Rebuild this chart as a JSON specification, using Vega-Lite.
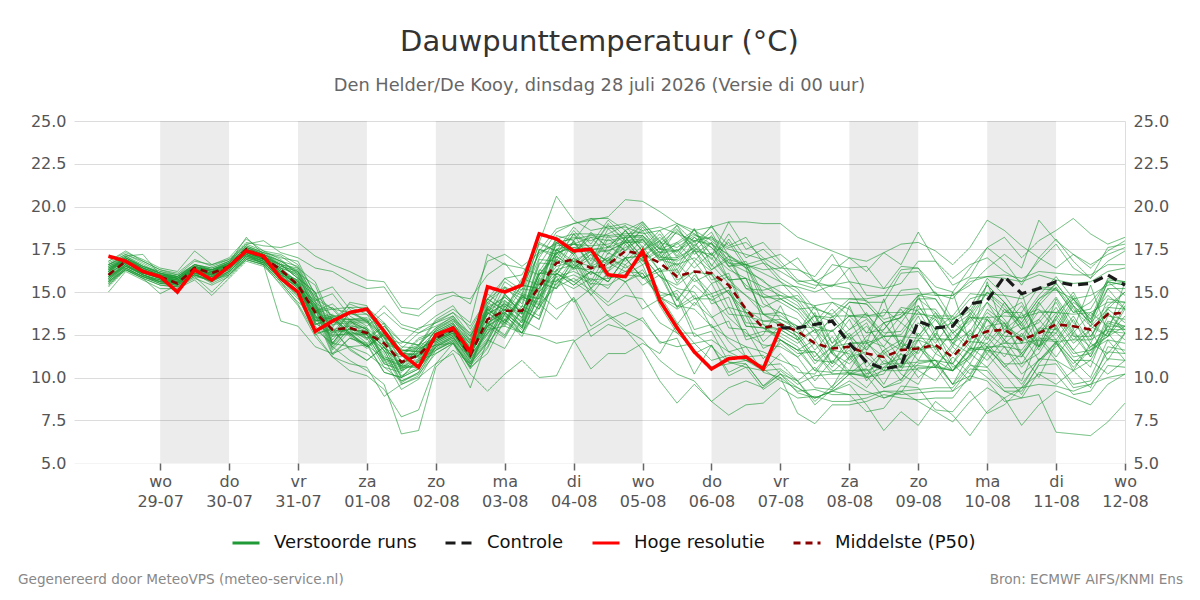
{
  "$schema": "https://vega.github.io/schema/vega-lite/v6.json",
  "background": "white",
  "padding": {"left": 18, "top": 28, "right": 10, "bottom": 10},
  "title": {
    "text": "Dauwpunttemperatuur (°C)",
    "subtitle": "Den Helder/De Kooy, dinsdag 28 juli 2026 (Versie di 00 uur)",
    "anchor": "middle",
    "frame": "group",
    "font": "DejaVu Sans",
    "fontSize": 29,
    "fontWeight": "normal",
    "color": "#333333",
    "subtitleFont": "DejaVu Sans",
    "subtitleFontSize": 17.8,
    "subtitleColor": "#666666",
    "subtitlePadding": 20,
    "offset": 18
  },
  "datasets": {
    "tijden": [
      {"t": "2026-07-28T06:00", "hres": 17.1, "p50": 16.0, "leden": [16.6,15.4,17.0,16.2,15.8,15.3,16.8,15.6,16.4,16.1,15.9,16.3,16.7,16.5,15.6,16.0,15.7,16.3,15.5,16.2,16.4,15.8,16.6,15.9,16.1,16.5,15.8,16.3,15.9,15.6,16.4,16.2,15.7,16.0,15.8,16.6,15.4,16.6,15.0,16.2,16.3,16.1,15.9,16.8,15.7,16.4,15.6,16.5,15.5,16.2]},
      {"t": "2026-07-28T12:00", "hres": 16.8, "p50": 16.8, "leden": [17.0,16.4,16.9,17.1,16.6,16.3,17.3,16.5,16.9,16.7,16.6,16.8,17.2,17.0,16.3,16.8,16.5,17.0,16.4,16.9,16.8,16.6,17.1,16.6,16.9,16.9,16.7,16.9,16.5,16.4,17.0,16.8,16.6,16.7,16.5,17.1,16.3,17.2,16.2,16.8,16.9,16.7,16.7,17.4,16.5,16.9,16.4,17.0,16.3,16.9]},
      {"t": "2026-07-28T18:00", "hres": 16.2, "p50": 16.2, "leden": [16.5,15.9,16.4,17.2,16.0,15.8,16.9,16.1,16.3,16.2,16.0,16.1,16.7,16.4,15.8,16.3,16.0,16.4,15.9,16.3,16.2,16.1,16.5,16.0,16.4,16.3,16.2,16.3,16.0,15.9,16.5,16.2,16.1,16.2,16.1,16.6,15.8,16.8,15.7,16.2,16.4,16.1,16.2,16.8,16.0,16.4,15.9,16.5,15.9,16.3]},
      {"t": "2026-07-29T00:00", "hres": 15.9, "p50": 15.9, "leden": [16.1,15.5,15.7,16.0,15.6,14.9,16.4,15.8,16.0,15.8,15.7,15.9,16.2,16.1,15.4,15.9,15.7,16.0,15.6,15.9,15.9,15.8,16.1,15.6,16.0,15.9,15.9,15.8,15.7,15.5,16.1,15.9,15.8,15.9,15.8,16.1,15.4,16.3,15.2,15.8,16.0,15.9,15.9,16.3,15.6,16.0,15.6,16.2,15.5,15.9]},
      {"t": "2026-07-29T06:00", "hres": 15.0, "p50": 15.5, "leden": [15.8,15.4,15.3,15.9,15.5,15.4,16.2,15.6,15.7,15.5,15.6,15.8,16.0,15.9,15.3,15.7,15.5,15.8,15.4,15.8,15.6,15.6,15.9,15.6,15.8,15.7,15.5,15.5,15.6,15.5,15.8,15.7,15.4,15.6,15.6,15.9,15.3,16.1,15.2,15.7,15.8,15.6,15.5,16.0,15.5,15.8,15.5,15.9,15.4,15.7]},
      {"t": "2026-07-29T12:00", "hres": 16.3, "p50": 16.4, "leden": [16.5,15.9,16.2,16.6,16.0,16.1,17.4,16.4,16.3,16.2,16.2,16.4,16.8,16.5,15.8,16.3,16.1,16.4,16.0,16.3,16.2,16.2,16.6,16.1,16.4,16.3,16.3,16.3,16.1,16.0,16.5,16.4,16.2,16.3,16.2,16.6,15.9,16.9,15.7,16.4,16.5,16.2,16.3,16.6,16.1,16.4,16.0,16.5,16.0,16.3]},
      {"t": "2026-07-29T18:00", "hres": 15.7, "p50": 16.1, "leden": [16.3,15.7,15.9,16.4,15.6,15.5,16.6,16.0,16.2,16.0,15.9,16.3,16.6,16.2,15.4,16.1,15.8,16.3,15.7,16.1,16.0,16.0,16.3,15.9,16.2,16.1,16.0,16.0,15.9,15.7,16.2,16.1,16.0,16.0,15.9,16.4,15.0,16.5,14.8,16.0,16.2,16.1,16.0,16.3,15.8,16.2,15.7,16.3,15.6,16.1]},
      {"t": "2026-07-30T00:00", "hres": 16.5, "p50": 16.5, "leden": [16.7,16.0,16.6,16.8,16.2,16.0,16.9,16.4,16.6,16.4,16.3,16.6,17.0,16.7,15.9,16.5,16.3,16.6,16.1,16.6,16.4,16.4,16.8,16.3,16.6,16.5,16.5,16.5,16.4,16.2,16.7,16.5,16.4,16.5,16.4,16.8,16.0,16.9,15.8,16.5,16.6,16.4,16.5,16.7,16.2,16.6,16.2,16.7,16.1,16.6]},
      {"t": "2026-07-30T06:00", "hres": 17.4, "p50": 17.5, "leden": [17.6,17.0,17.5,17.8,17.1,16.9,17.9,17.3,17.5,17.2,17.2,17.3,18.1,17.6,16.9,17.4,17.2,17.5,17.0,17.4,17.3,17.3,17.7,17.2,17.4,17.5,17.3,17.4,17.2,17.1,17.6,17.4,17.3,17.4,17.3,17.7,16.9,17.8,16.8,17.2,17.5,17.3,17.4,18.2,17.1,17.5,17.1,17.6,17.0,17.4]},
      {"t": "2026-07-30T12:00", "hres": 17.1, "p50": 17.0, "leden": [17.2,16.7,17.2,17.4,16.8,16.6,17.7,16.9,17.1,16.9,16.8,17.0,17.4,17.3,16.6,17.0,16.8,17.2,16.7,17.0,17.0,16.9,17.3,16.8,17.1,17.1,16.9,17.0,16.8,16.7,17.2,17.1,16.9,17.0,16.9,17.3,16.6,18.0,16.5,16.6,17.1,17.0,16.9,17.2,16.8,17.1,16.7,17.2,16.7,17.0]},
      {"t": "2026-07-30T18:00", "hres": 15.8, "p50": 16.3, "leden": [16.8,15.8,16.0,16.9,16.0,15.6,17.6,16.1,16.6,16.2,15.9,16.4,17.2,16.8,15.6,16.4,16.0,16.6,15.7,16.6,16.2,16.2,17.0,15.8,16.3,16.5,16.1,16.2,16.0,15.8,16.7,16.4,16.1,16.3,16.1,17.1,15.4,17.3,15.5,13.3,16.5,16.2,16.3,16.6,15.9,16.6,15.8,16.8,15.7,16.4]},
      {"t": "2026-07-31T00:00", "hres": 15.0, "p50": 15.4, "leden": [16.2,15.1,15.2,16.0,15.0,14.3,17.9,15.7,15.8,15.4,15.3,15.6,16.6,16.5,14.6,15.5,15.5,15.8,14.8,16.4,15.4,15.3,16.8,14.9,15.6,16.2,15.2,15.3,15.6,14.8,15.9,16.1,15.2,15.4,15.7,16.4,14.2,17.0,14.4,13.0,16.2,15.3,15.4,16.3,15.0,15.8,15.4,16.1,14.7,16.0]},
      {"t": "2026-07-31T06:00", "hres": 12.7, "p50": 13.8, "leden": [14.5,12.8,14.0,13.9,13.0,12.6,17.1,13.6,15.0,13.4,13.2,14.8,14.9,14.6,14.0,13.3,13.4,15.0,12.5,14.6,14.4,13.1,14.8,14.1,13.5,14.1,14.3,13.1,13.5,14.0,13.9,14.0,14.3,13.3,13.6,15.6,12.4,16.4,13.7,11.8,14.2,14.5,13.3,14.4,14.2,13.8,13.2,15.4,12.6,13.9]},
      {"t": "2026-07-31T12:00", "hres": 13.3, "p50": 12.8, "leden": [14.9,12.0,12.9,14.3,11.8,11.2,16.6,12.8,12.4,13.6,12.4,12.0,15.3,13.6,11.4,13.6,12.6,12.6,12.9,14.0,12.0,13.4,14.0,11.7,13.7,13.3,11.9,13.5,12.7,11.6,14.1,13.2,12.0,13.5,12.8,13.3,11.2,16.2,11.3,11.4,13.4,12.2,13.5,13.6,11.8,14.0,12.5,13.0,12.8,13.1]},
      {"t": "2026-07-31T18:00", "hres": 13.8, "p50": 12.9, "leden": [13.6,11.8,14.4,13.4,11.0,10.4,16.2,12.6,13.8,12.6,12.6,13.3,14.0,13.4,12.3,12.6,12.8,13.8,11.6,13.8,13.3,12.4,14.1,12.9,12.8,13.4,13.1,12.5,12.8,12.7,13.0,13.3,13.2,12.5,13.0,14.3,10.8,15.6,12.3,11.8,13.4,13.4,12.6,13.7,12.9,12.9,12.5,14.1,11.7,13.2]},
      {"t": "2026-08-01T00:00", "hres": 14.0, "p50": 12.6, "leden": [13.0,11.9,14.2,12.3,10.4,10.1,15.7,12.6,13.3,11.9,12.5,12.8,13.2,13.5,12.0,11.8,12.7,13.4,11.0,13.9,12.8,11.7,14.1,12.5,12.0,13.3,12.7,11.8,12.7,12.3,12.3,13.3,12.8,11.8,12.9,13.9,10.6,15.2,11.9,11.4,13.4,12.9,11.8,13.7,12.5,12.2,12.5,13.7,11.0,13.2]},
      {"t": "2026-08-01T06:00", "hres": 12.7, "p50": 12.0, "leden": [13.8,11.1,12.0,13.0,9.6,9.3,15.6,11.6,11.5,12.7,11.4,10.9,14.2,12.7,10.3,12.6,11.8,11.7,11.8,13.1,11.1,12.5,13.2,10.8,12.8,12.4,11.0,12.5,11.8,10.6,13.2,12.4,11.1,12.6,12.0,12.3,8.9,15.3,10.3,10.6,12.5,11.2,12.6,12.8,10.8,13.0,11.6,12.1,11.8,12.3]},
      {"t": "2026-08-01T12:00", "hres": 11.4, "p50": 10.9, "leden": [12.9,9.3,11.6,12.1,6.7,7.7,14.1,9.7,11.2,11.6,9.6,10.6,13.1,10.8,10.0,11.4,10.0,11.3,10.6,11.5,10.8,11.3,11.4,10.4,11.6,10.4,10.7,11.3,10.0,10.3,12.1,10.5,10.7,11.4,10.1,12.0,9.6,13.8,10.0,9.8,10.6,10.9,11.4,10.9,10.5,11.8,9.8,11.7,10.7,10.4]},
      {"t": "2026-08-01T18:00", "hres": 10.6, "p50": 11.3, "leden": [12.6,9.9,11.6,11.9,6.9,8.1,14.0,10.3,12.2,11.5,10.1,11.6,12.8,11.3,11.0,11.3,10.5,12.3,10.6,11.9,11.8,11.2,11.8,11.5,11.5,10.9,11.7,11.2,10.5,11.3,11.9,11.0,11.7,11.3,10.6,12.9,10.0,13.6,11.1,10.2,11.1,11.9,11.4,11.3,11.5,11.7,10.3,12.6,10.6,10.9]},
      {"t": "2026-08-02T00:00", "hres": 12.5, "p50": 12.3, "leden": [13.2,11.6,12.4,12.9,10.6,10.8,14.8,11.9,12.6,12.4,11.8,12.2,13.6,12.8,11.4,12.3,12.0,12.7,11.8,13.4,12.2,12.2,13.3,11.9,12.5,12.4,12.1,12.2,12.0,11.7,12.9,12.5,12.1,12.3,12.1,13.2,10.8,14.4,11.6,11.4,12.6,12.3,12.3,12.8,11.9,12.7,11.8,13.0,11.6,12.4]},
      {"t": "2026-08-02T06:00", "hres": 12.9, "p50": 12.8, "leden": [13.6,12.2,13.0,13.6,11.6,12.0,15.0,12.0,13.1,12.9,12.4,12.6,14.2,13.4,12.0,12.8,12.5,13.2,12.3,14.0,12.7,12.7,13.8,12.4,13.0,12.9,12.6,12.7,12.5,12.2,13.4,13.0,12.6,12.8,12.6,13.8,11.4,14.8,12.1,12.0,13.1,12.8,12.8,13.3,12.4,13.2,12.3,13.5,12.1,12.9]},
      {"t": "2026-08-02T12:00", "hres": 11.5, "p50": 11.3, "leden": [12.2,11.2,11.8,12.4,10.8,10.8,14.3,10.2,11.6,11.4,11.4,11.0,12.8,12.6,10.6,11.3,11.6,11.7,10.8,13.2,11.2,11.2,13.0,10.9,11.5,12.0,11.1,11.1,11.6,10.7,11.9,12.1,11.1,11.3,11.7,12.5,9.4,14.6,10.5,10.6,12.2,11.3,11.3,12.4,10.9,11.7,11.4,12.1,10.6,12.0]},
      {"t": "2026-08-02T18:00", "hres": 15.3, "p50": 13.4, "leden": [14.9,12.6,14.2,14.6,12.0,12.1,16.8,9.2,13.0,14.1,13.0,12.2,14.6,14.4,11.4,14.0,13.2,13.0,13.2,17.2,12.8,13.8,14.6,12.8,14.2,13.7,12.3,13.8,13.2,11.8,14.6,13.9,12.5,14.0,13.4,13.7,12.2,16.0,11.7,13.0,14.0,12.6,14.0,14.1,12.1,14.4,13.0,13.4,13.2,13.7]},
      {"t": "2026-08-03T00:00", "hres": 15.0, "p50": 13.9, "leden": [14.1,13.4,15.8,15.8,13.2,14.0,17.2,10.2,14.9,13.3,13.7,14.2,13.9,15.2,13.4,13.2,13.8,14.9,12.5,16.6,14.8,13.1,15.3,13.0,13.4,14.3,14.2,13.0,13.8,13.7,13.9,14.5,14.4,13.2,14.0,15.6,11.7,16.7,13.8,12.3,14.7,14.5,13.2,14.7,14.0,13.7,13.6,15.3,12.4,14.3]},
      {"t": "2026-08-03T06:00", "hres": 15.4, "p50": 13.9, "leden": [15.4,12.6,15.1,16.0,12.6,13.3,16.5,11.0,13.7,14.9,12.6,12.9,15.8,14.6,12.4,14.7,13.0,13.7,14.2,16.4,14.1,14.8,14.8,12.6,14.8,13.7,13.2,14.6,12.9,12.6,15.4,13.8,13.4,14.7,13.2,14.9,13.4,15.4,12.9,14.0,13.8,13.5,14.8,13.9,13.0,15.2,12.8,14.3,14.0,13.5]},
      {"t": "2026-08-03T12:00", "hres": 18.4, "p50": 15.3, "leden": [15.2,14.3,17.8,17.9,14.1,16.1,17.3,10.0,16.9,14.6,14.8,15.7,15.4,17.0,14.3,14.4,15.0,16.7,13.6,16.0,17.5,14.0,17.4,12.4,14.6,16.6,15.8,14.0,15.0,14.9,15.2,16.0,16.1,14.3,15.2,17.9,12.8,17.2,15.5,13.4,16.2,16.3,14.2,16.0,15.6,15.0,14.7,17.5,13.4,15.8]},
      {"t": "2026-08-03T18:00", "hres": 18.1, "p50": 16.7, "leden": [18.1,15.3,17.4,20.6,15.5,16.2,17.8,10.1,16.8,17.5,15.9,15.6,18.3,18.5,13.4,17.3,16.3,16.6,16.3,17.2,17.0,15.9,18.7,12.0,17.5,18.1,15.4,16.9,16.1,14.0,17.9,17.3,16.0,17.1,16.5,17.4,15.7,17.9,15.2,16.1,17.7,16.0,17.1,17.5,15.2,17.9,15.7,17.2,16.1,17.3]},
      {"t": "2026-08-04T00:00", "hres": 17.4, "p50": 16.9, "leden": [17.2,15.8,17.9,19.2,16.4,18.0,18.2,12.1,18.4,16.8,16.2,17.0,18.0,19.0,14.7,16.4,16.6,18.0,15.6,17.8,18.4,14.4,19.0,12.2,16.6,18.4,16.8,16.4,15.6,14.6,17.2,17.6,17.4,16.3,16.8,18.8,15.2,18.1,17.0,15.4,17.8,17.2,16.4,17.8,16.6,17.2,16.0,18.6,15.4,17.6]},
      {"t": "2026-08-04T06:00", "hres": 17.5, "p50": 16.4, "leden": [18.5,15.1,16.5,18.6,16.3,16.6,18.0,12.8,16.8,17.4,15.7,15.2,19.3,19.2,13.0,17.2,16.1,16.5,16.2,18.2,17.5,15.2,19.3,10.5,17.5,18.4,15.2,17.2,14.9,12.4,18.4,17.3,15.6,17.0,16.5,17.8,15.8,18.3,16.0,16.2,17.7,15.4,17.4,17.5,14.8,18.2,15.5,17.5,16.2,17.5]},
      {"t": "2026-08-04T12:00", "hres": 16.0, "p50": 16.6, "leden": [17.6,14.2,17.0,18.8,17.0,18.3,18.4,13.4,18.7,16.8,15.8,16.7,18.7,19.4,13.7,16.6,16.2,18.1,15.6,18.0,19.0,14.4,19.3,11.4,16.7,18.3,16.1,15.8,13.6,13.1,17.6,17.4,17.3,16.2,16.4,19.2,15.2,18.2,17.7,15.6,17.8,16.9,16.8,17.4,16.1,17.2,15.4,18.9,15.6,17.6]},
      {"t": "2026-08-04T18:00", "hres": 15.9, "p50": 17.4, "leden": [18.6,14.8,16.4,19.0,17.6,17.4,18.9,13.8,17.8,18.2,16.2,16.2,18.8,20.4,13.0,18.0,17.0,17.4,17.0,18.2,18.0,15.6,18.6,11.4,18.2,18.4,15.6,16.0,12.8,12.8,18.6,17.9,16.8,17.8,17.0,18.2,16.6,18.3,17.0,17.0,18.2,16.6,18.0,17.9,15.6,18.6,16.0,18.0,17.0,18.0]},
      {"t": "2026-08-05T00:00", "hres": 17.4, "p50": 17.2, "leden": [17.4,14.6,17.0,18.6,18.1,18.8,17.6,13.3,18.6,17.0,16.1,16.9,18.4,20.3,13.5,16.8,17.1,18.3,15.8,18.2,18.9,14.0,19.1,12.0,17.0,18.5,16.1,16.6,11.6,12.2,17.4,18.0,17.7,16.6,17.1,19.1,15.4,18.3,18.1,15.8,18.3,17.5,16.8,17.9,16.3,17.4,15.9,19.0,15.8,18.1]},
      {"t": "2026-08-05T06:00", "hres": 14.5, "p50": 16.7, "leden": [18.4,13.2,14.8,18.8,16.9,17.5,18.6,12.1,17.2,18.0,14.7,15.0,18.6,19.7,12.0,17.6,15.9,17.0,16.2,17.3,17.8,14.6,17.9,11.4,17.8,17.5,14.6,14.2,9.8,11.0,18.2,17.0,16.2,17.2,15.9,18.0,16.0,17.5,16.8,16.4,17.3,16.2,17.4,16.9,14.8,18.0,14.7,17.6,16.4,17.1]},
      {"t": "2026-08-05T12:00", "hres": 12.9, "p50": 15.9, "leden": [17.0,12.6,13.2,18.4,16.9,18.9,17.1,11.8,18.6,16.3,14.2,14.7,19.0,19.0,12.3,15.9,15.4,17.9,14.1,17.8,18.7,13.1,17.6,13.1,16.1,17.4,15.1,12.6,8.5,10.2,17.3,17.0,16.3,15.5,15.2,18.9,14.1,17.9,17.5,14.5,17.4,16.7,15.7,16.6,14.9,16.5,14.0,18.5,14.5,16.8]},
      {"t": "2026-08-05T18:00", "hres": 11.5, "p50": 16.2, "leden": [18.2,12.6,12.0,18.0,17.6,17.2,18.7,12.0,17.7,17.8,14.0,12.4,18.6,18.4,10.2,17.4,16.2,16.8,14.8,18.4,17.6,14.4,18.3,11.4,17.5,18.2,14.2,11.6,9.6,9.8,18.7,17.6,14.6,16.8,15.0,17.9,15.4,18.6,16.4,16.0,18.0,15.6,16.2,17.0,12.8,18.0,14.6,17.4,15.8,17.4]},
      {"t": "2026-08-06T00:00", "hres": 10.5, "p50": 16.1, "leden": [17.2,11.8,11.0,18.2,16.6,17.9,17.1,12.2,18.5,16.9,13.0,12.7,18.8,17.8,11.9,16.3,16.0,17.9,12.9,17.6,18.9,13.5,18.1,11.9,15.7,17.6,15.5,10.6,8.6,8.6,16.5,17.0,14.9,15.5,13.6,18.8,14.5,18.0,17.3,14.9,17.8,16.1,14.3,16.2,13.1,16.3,14.6,18.3,14.7,17.2]},
      {"t": "2026-08-06T06:00", "hres": 11.1, "p50": 15.4, "leden": [17.9,10.9,11.3,17.6,15.5,15.7,19.1,11.5,16.7,18.4,12.3,10.9,19.1,17.2,10.3,17.1,14.9,16.5,13.3,16.7,17.1,14.1,17.5,10.1,16.1,16.5,13.7,10.8,9.4,7.8,18.1,15.7,12.9,15.9,12.1,17.7,15.1,17.1,15.7,15.3,16.9,14.1,14.7,14.9,11.5,16.9,13.5,16.5,15.1,16.3]},
      {"t": "2026-08-06T12:00", "hres": 11.2, "p50": 14.0, "leden": [16.4,10.6,11.0,17.9,14.8,15.8,17.5,11.0,16.6,17.0,11.8,10.8,19.1,16.4,10.8,15.2,13.8,16.8,11.2,16.2,16.4,12.4,17.2,10.6,13.8,15.4,13.6,11.0,9.8,8.4,16.6,14.8,12.8,13.6,11.2,18.2,13.0,16.6,15.8,13.2,16.6,13.8,12.2,14.0,11.8,15.2,12.6,16.6,13.0,15.8]},
      {"t": "2026-08-06T18:00", "hres": 10.5, "p50": 12.9, "leden": [16.7,10.4,10.6,17.0,13.7,13.7,17.9,10.7,14.3,17.5,11.5,9.5,19.0,15.6,9.5,14.7,12.9,14.9,11.3,15.7,13.1,12.7,16.9,9.3,13.7,14.7,11.7,10.4,9.4,8.5,16.9,14.1,11.1,13.3,10.5,16.7,12.9,16.1,13.7,13.1,16.3,12.1,12.5,13.3,10.3,15.1,11.9,14.7,12.9,15.3]},
      {"t": "2026-08-07T00:00", "hres": 12.9, "p50": 13.1, "ctrl": 12.9, "leden": [15.6,10.5,12.2,16.4,13.0,13.2,16.8,10.8,13.8,16.6,11.0,10.2,19.0,15.0,10.4,13.4,12.4,14.4,10.2,14.6,12.2,12.6,15.8,10.0,13.8,14.8,12.2,11.4,10.2,9.4,17.2,14.6,12.0,13.2,9.8,16.2,12.8,15.6,13.6,12.8,16.4,13.0,14.2,13.4,10.0,15.4,11.8,14.6,12.2,14.8]},
      {"t": "2026-08-07T06:00", "p50": 12.7, "ctrl": 12.9, "leden": [14.5,9.8,11.6,16.3,12.4,12.6,15.7,9.8,12.8,15.5,10.6,9.4,18.2,14.4,9.6,13.0,11.8,13.8,9.1,14.0,11.4,12.0,15.2,9.2,13.4,14.2,11.6,10.3,9.8,8.8,16.4,14.8,11.2,12.6,9.4,15.6,12.2,15.0,13.0,12.2,17.0,12.4,12.2,12.8,7.9,15.3,11.2,14.0,11.6,14.6]},
      {"t": "2026-08-07T12:00", "p50": 12.0, "ctrl": 13.1, "leden": [14.2,10.6,11.5,15.9,11.0,14.2,15.4,8.4,13.6,15.2,9.4,8.8,17.8,13.0,10.1,11.6,10.4,12.6,8.8,12.8,11.5,12.8,14.0,9.3,12.2,13.0,10.4,10.2,8.6,8.9,15.6,13.6,12.0,11.2,8.8,15.7,10.8,13.6,12.9,12.8,15.6,11.0,13.8,13.6,7.3,15.0,9.8,14.1,12.2,13.2]},
      {"t": "2026-08-07T18:00", "p50": 11.7, "ctrl": 13.3, "leden": [14.4,9.4,10.2,17.2,10.9,12.0,15.4,9.3,11.4,16.6,9.3,9.2,17.4,12.7,10.2,12.8,10.3,13.4,9.2,12.7,10.4,10.8,13.7,9.0,13.6,14.0,11.6,11.6,9.5,8.6,16.2,13.3,10.6,12.4,9.2,14.6,11.8,13.5,11.8,11.4,15.3,11.8,11.4,12.0,8.4,15.4,11.0,13.6,10.8,14.4]},
      {"t": "2026-08-08T00:00", "p50": 11.8, "ctrl": 12.0, "leden": [14.0,11.2,10.3,15.6,12.0,13.4,15.2,10.2,10.4,16.4,10.2,9.6,17.0,13.6,10.2,11.2,11.2,12.2,9.0,13.6,10.4,12.4,14.6,9.0,12.4,12.8,10.2,11.4,10.4,8.6,17.0,14.4,11.8,11.0,9.8,14.6,12.4,14.4,12.0,10.8,16.4,12.6,14.2,12.8,8.4,15.6,10.2,13.6,11.6,13.6]},
      {"t": "2026-08-08T06:00", "p50": 11.4, "ctrl": 10.9, "leden": [12.6,10.0,10.0,15.4,12.1,11.6,13.6,10.1,12.0,14.8,10.5,8.4,16.8,13.5,10.2,12.4,11.5,13.0,8.0,13.7,10.4,13.2,14.5,9.0,11.6,13.4,11.0,10.0,10.5,8.8,16.2,14.3,9.8,12.2,9.2,14.6,10.6,14.3,12.0,11.8,16.5,11.2,12.0,13.8,8.6,14.4,9.4,13.6,10.2,12.6]},
      {"t": "2026-08-08T12:00", "p50": 11.2, "ctrl": 10.5, "leden": [12.8,11.6,10.4,15.2,10.8,12.8,13.6,8.8,11.2,14.8,9.4,6.9,17.3,12.4,10.6,13.2,10.4,11.8,8.2,12.6,10.8,11.4,13.4,9.2,13.2,12.4,9.6,10.2,9.4,9.2,17.3,13.2,11.0,11.8,8.8,14.8,11.6,13.2,12.4,12.4,15.2,10.4,14.6,12.2,9.0,14.4,10.6,13.8,11.4,14.0]},
      {"t": "2026-08-08T18:00", "p50": 11.6, "ctrl": 10.7, "leden": [14.1,10.2,10.4,16.5,11.1,14.0,15.1,9.1,9.8,16.3,9.9,8.0,17.8,12.5,10.6,11.8,10.7,13.2,9.5,12.7,10.8,12.0,13.7,9.2,12.0,13.6,11.4,11.7,9.7,9.0,16.6,13.5,10.4,10.6,9.2,14.8,12.2,13.5,12.4,11.0,15.5,12.0,11.6,11.6,8.8,16.1,11.4,13.8,10.6,13.2]},
      {"t": "2026-08-09T00:00", "p50": 11.7, "ctrl": 13.3, "leden": [13.9,9.6,10.5,16.4,12.2,12.4,15.2,10.6,11.6,16.4,11.0,7.2,17.9,13.8,10.7,12.2,11.6,12.4,9.4,14.0,10.9,13.6,14.8,9.3,14.2,14.2,10.4,11.8,10.8,9.1,18.5,14.8,12.2,12.6,8.6,14.9,11.0,14.6,12.3,11.8,16.8,11.4,14.8,13.2,8.7,16.2,10.0,13.7,11.8,14.6]},
      {"t": "2026-08-09T06:00", "p50": 11.9, "ctrl": 12.9, "leden": [12.3,11.4,10.6,14.8,11.8,13.6,13.5,10.6,12.4,15.3,11.0,8.6,17.4,13.4,10.6,13.4,11.8,13.8,8.1,14.0,11.0,11.6,14.6,9.4,12.8,12.8,9.8,10.7,11.0,9.2,16.8,15.0,10.6,11.4,8.0,14.8,12.6,14.6,12.2,10.6,16.8,12.8,12.4,12.0,8.8,14.9,10.8,13.6,11.0,13.8]},
      {"t": "2026-08-09T12:00", "p50": 11.2, "ctrl": 13.0, "leden": [12.2,10.8,10.4,14.8,10.4,11.8,13.4,9.2,10.6,15.0,9.6,7.8,16.6,12.0,10.4,12.0,10.4,12.2,8.0,12.6,10.8,12.6,13.2,9.4,13.6,13.2,11.2,10.4,9.6,9.2,15.8,13.4,11.8,12.8,7.4,14.8,11.4,13.0,12.2,12.0,15.4,10.8,15.0,13.4,8.8,14.6,9.6,13.6,10.4,12.6]},
      {"t": "2026-08-09T18:00", "p50": 12.3, "ctrl": 14.3, "leden": [13.5,9.8,11.7,15.6,11.3,13.8,14.6,9.9,11.2,16.4,10.8,6.6,17.6,12.7,11.7,13.6,11.1,13.2,9.2,13.3,12.1,11.6,13.9,10.7,12.2,12.4,10.2,11.6,10.1,10.5,16.6,14.1,10.8,11.8,8.6,15.4,12.8,13.7,13.5,11.4,15.9,12.6,12.0,14.0,10.1,15.8,11.4,14.9,11.8,13.6]},
      {"t": "2026-08-10T00:00", "p50": 12.7, "ctrl": 14.5, "leden": [13.5,11.8,11.8,15.9,13.0,12.6,14.9,11.4,13.4,17.6,10.0,8.0,19.2,14.4,11.6,12.2,12.6,14.4,7.9,15.0,12.0,13.6,15.4,10.6,14.0,13.8,11.8,11.7,11.6,10.4,17.0,15.8,12.4,13.4,9.4,16.4,11.4,15.4,13.4,12.0,17.6,11.8,15.6,12.8,9.8,15.9,10.6,14.8,11.0,15.0]},
      {"t": "2026-08-10T06:00", "p50": 12.8, "ctrl": 15.9, "leden": [13.6,10.6,11.8,15.8,13.2,14.4,14.8,10.2,12.2,18.2,9.2,8.8,18.6,13.4,11.4,14.0,11.8,12.8,8.4,14.2,10.8,12.2,14.4,9.4,13.2,13.0,10.6,12.0,10.8,9.2,16.2,14.8,11.2,12.0,8.8,17.2,12.6,14.4,12.4,13.2,16.8,13.0,12.6,13.8,8.6,16.0,11.8,13.8,12.2,14.0]},
      {"t": "2026-08-10T12:00", "p50": 12.2, "ctrl": 14.9, "leden": [13.5,9.8,11.6,15.6,11.4,13.0,14.6,9.0,10.8,17.0,8.8,9.4,17.7,12.0,11.2,12.8,10.6,13.6,9.4,12.8,10.8,13.8,13.2,9.4,12.0,14.2,11.4,12.0,9.6,9.2,15.6,13.4,12.6,12.8,7.2,16.4,13.2,13.0,12.4,11.2,15.4,12.4,15.0,14.4,8.8,15.8,10.2,13.8,11.4,13.2]},
      {"t": "2026-08-10T18:00", "p50": 12.6, "ctrl": 15.2, "leden": [13.8,12.2,12.9,16.0,12.8,11.8,15.2,10.8,11.4,18.0,9.0,10.2,17.0,13.4,12.7,13.2,11.8,14.0,9.6,14.2,12.3,11.8,14.6,11.1,14.4,12.6,10.0,12.2,11.0,10.7,16.8,14.8,11.0,13.4,8.4,19.2,11.6,14.4,13.9,12.8,17.0,11.8,11.8,12.6,10.3,16.2,11.0,15.3,12.4,14.6]},
      {"t": "2026-08-11T00:00", "p50": 13.1, "ctrl": 15.6, "leden": [13.8,11.0,12.8,15.7,14.1,13.6,15.1,12.1,13.0,18.6,6.8,9.6,16.4,14.7,12.6,14.4,12.9,12.8,9.5,15.3,12.2,12.6,15.5,11.0,13.0,13.4,12.0,12.1,12.1,10.8,17.8,15.9,11.8,12.2,9.2,18.0,13.4,15.5,13.8,12.0,18.1,13.6,14.6,13.8,10.2,16.1,12.0,15.2,11.2,15.2]},
      {"t": "2026-08-11T06:00", "p50": 13.0, "ctrl": 15.4, "leden": [13.7,10.4,11.4,15.5,12.5,15.0,14.6,10.4,11.6,19.3,6.7,10.4,17.2,13.2,11.2,12.6,11.6,14.4,9.2,14.0,11.0,14.2,14.2,9.6,14.6,14.8,10.8,12.2,11.0,9.4,16.4,14.6,12.8,13.6,8.8,17.2,12.0,14.2,12.4,13.4,16.8,12.2,12.8,14.6,9.0,16.0,10.6,13.8,12.6,13.8]},
      {"t": "2026-08-11T12:00", "p50": 12.8, "ctrl": 15.5, "leden": [13.8,12.0,11.6,15.6,11.2,13.2,14.8,9.4,12.8,18.4,6.6,11.0,16.6,12.2,11.4,13.8,10.6,13.6,9.6,13.0,11.0,12.4,13.2,9.8,13.4,13.2,11.8,12.2,10.0,9.6,15.8,13.4,11.2,12.0,8.4,16.4,12.8,13.2,12.4,11.6,15.8,13.0,15.4,13.0,9.2,16.0,11.6,14.0,11.8,14.4]},
      {"t": "2026-08-11T18:00", "p50": 13.7, "ctrl": 16.0, "leden": [14.4,11.4,13.0,16.2,13.6,12.4,15.4,11.8,11.0,17.8,7.4,10.2,17.2,14.6,13.3,13.0,13.2,14.8,10.0,15.2,12.7,13.8,15.6,11.5,15.2,14.2,12.6,12.8,12.2,11.1,16.8,15.8,13.0,14.0,9.6,17.4,13.8,15.6,14.1,12.4,17.6,12.4,12.6,14.0,10.7,16.6,12.2,15.7,12.4,15.6]},
      {"t": "2026-08-12T00:00", "p50": 13.8, "ctrl": 15.4, "leden": [14.4,12.6,13.0,16.4,13.4,14.2,15.6,11.6,12.6,18.2,8.5,11.0,17.6,14.4,13.0,14.4,12.8,14.0,10.2,15.2,12.6,12.8,15.4,11.4,14.0,15.0,11.4,12.8,12.0,11.0,17.4,15.6,12.2,13.2,10.2,18.0,12.6,15.4,14.0,14.0,17.8,13.6,15.6,15.0,10.6,16.6,11.0,15.6,13.0,14.8]}
    ]
  },
  "spacing": 20,
  "resolve": {"scale": {"color": "independent", "strokeDash": "independent"}},
  "vconcat": [
    {
      "width": 1051,
      "height": 342,
      "resolve": {"axis": {"y": "independent"}},
      "layer": [
        {
          "data": {"values": [
            {"begin": "2026-07-29T00:00", "eind": "2026-07-30T00:00"},
            {"begin": "2026-07-31T00:00", "eind": "2026-08-01T00:00"},
            {"begin": "2026-08-02T00:00", "eind": "2026-08-03T00:00"},
            {"begin": "2026-08-04T00:00", "eind": "2026-08-05T00:00"},
            {"begin": "2026-08-06T00:00", "eind": "2026-08-07T00:00"},
            {"begin": "2026-08-08T00:00", "eind": "2026-08-09T00:00"},
            {"begin": "2026-08-10T00:00", "eind": "2026-08-11T00:00"}
          ]},
          "mark": {"type": "rect", "color": "#000000", "opacity": 0.075},
          "encoding": {
            "x": {
              "field": "begin", "type": "temporal",
              "scale": {"domain": [{"year": 2026, "month": 7, "date": 27, "hours": 18}, {"year": 2026, "month": 8, "date": 12}]},
              "axis": {
                "title": null,
                "values": [
                  {"year": 2026, "month": 7, "date": 29}, {"year": 2026, "month": 7, "date": 30},
                  {"year": 2026, "month": 7, "date": 31}, {"year": 2026, "month": 8, "date": 1},
                  {"year": 2026, "month": 8, "date": 2}, {"year": 2026, "month": 8, "date": 3},
                  {"year": 2026, "month": 8, "date": 4}, {"year": 2026, "month": 8, "date": 5},
                  {"year": 2026, "month": 8, "date": 6}, {"year": 2026, "month": 8, "date": 7},
                  {"year": 2026, "month": 8, "date": 8}, {"year": 2026, "month": 8, "date": 9},
                  {"year": 2026, "month": 8, "date": 10}, {"year": 2026, "month": 8, "date": 11},
                  {"year": 2026, "month": 8, "date": 12}
                ],
                "labelExpr": "[['zo','ma','di','wo','do','vr','za'][day(datum.value)], timeFormat(datum.value, '%d-%m')]",
                "grid": false,
                "domain": false,
                "ticks": true,
                "tickColor": "#666666",
                "tickSize": 7,
                "tickWidth": 1.5,
                "labelFontSize": 16,
                "labelColor": "#555555",
                "labelPadding": 3,
                "labelLineHeight": 20,
                "labelFlush": false,
                "labelOverlap": false,
                "labelBound": false
              }
            },
            "x2": {"field": "eind"}
          }
        },
        {
          "data": {"name": "tijden"},
          "transform": [
            {"flatten": ["leden"], "as": ["waarde"]},
            {"window": [{"op": "row_number", "as": "lid"}], "groupby": ["t"]}
          ],
          "mark": {"type": "line", "strokeWidth": 1, "opacity": 0.68},
          "encoding": {
            "x": {"field": "t", "type": "temporal"},
            "y": {
              "field": "waarde", "type": "quantitative",
              "scale": {"domain": [5, 25], "nice": false, "zero": false},
              "axis": {
                "orient": "left", "title": null,
                "values": [5, 7.5, 10, 12.5, 15, 17.5, 20, 22.5, 25],
                "format": ".1f", "grid": true,
                "gridColor": {"condition": {"test": "datum.value === 5", "value": "#f4f4f4"}, "value": "#dcdcdc"},
                "domain": false, "ticks": false,
                "labelFontSize": 16, "labelColor": "#555555", "labelPadding": 8
              }
            },
            "detail": {"field": "lid", "type": "nominal"},
            "color": {
              "datum": "Verstoorde runs", "type": "nominal",
              "scale": {
                "domain": ["Verstoorde runs", "Controle", "Hoge resolutie", "Middelste (P50)"],
                "range": ["#1f9a36", "#1a1a1a", "#ff0000", "#8b0000"]
              },
              "legend": {
                "orient": "none", "legendX": 157, "legendY": 407,
                "direction": "horizontal", "title": null,
                "symbolType": "stroke", "symbolSize": 729, "symbolStrokeWidth": 3, "symbolOpacity": 1,
                "labelFontSize": 18, "labelColor": "#111111", "labelOffset": 13,
                "columnPadding": 22
              }
            },
            "strokeDash": {
              "datum": "Verstoorde runs", "type": "nominal",
              "scale": {
                "domain": ["Verstoorde runs", "Controle", "Hoge resolutie", "Middelste (P50)"],
                "range": [[1, 0], [10, 6], [1, 0], [7, 5]]
              },
              "legend": {
                "orient": "none", "legendX": 157, "legendY": 407,
                "direction": "horizontal", "title": null,
                "symbolType": "stroke", "symbolSize": 729, "symbolStrokeWidth": 3, "symbolOpacity": 1,
                "labelFontSize": 18, "labelColor": "#111111", "labelOffset": 13,
                "columnPadding": 22
              }
            }
          }
        },
        {
          "data": {"name": "tijden"},
          "mark": {"type": "line", "strokeWidth": 2.6},
          "encoding": {
            "x": {"field": "t", "type": "temporal"},
            "y": {"field": "p50", "type": "quantitative", "axis": null},
            "color": {"datum": "Middelste (P50)", "type": "nominal"},
            "strokeDash": {"datum": "Middelste (P50)", "type": "nominal"}
          }
        },
        {
          "data": {"name": "tijden"},
          "mark": {"type": "line", "strokeWidth": 3.2},
          "encoding": {
            "x": {"field": "t", "type": "temporal"},
            "y": {"field": "ctrl", "type": "quantitative", "axis": null},
            "color": {"datum": "Controle", "type": "nominal"},
            "strokeDash": {"datum": "Controle", "type": "nominal"}
          }
        },
        {
          "data": {"name": "tijden"},
          "mark": {"type": "line", "strokeWidth": 3.6},
          "encoding": {
            "x": {"field": "t", "type": "temporal"},
            "y": {
              "field": "hres", "type": "quantitative",
              "axis": {
                "orient": "right", "title": null,
                "values": [5, 7.5, 10, 12.5, 15, 17.5, 20, 22.5, 25],
                "format": ".1f", "grid": false,
                "domain": true, "domainColor": "#dddddd", "ticks": false,
                "labelFontSize": 16, "labelColor": "#555555", "labelPadding": 8
              }
            },
            "color": {"datum": "Hoge resolutie", "type": "nominal"},
            "strokeDash": {"datum": "Hoge resolutie", "type": "nominal"}
          }
        }
      ]
    },
    {
      "width": 1051,
      "height": 16,
      "layer": [
        {
          "data": {"values": [{"kant": "links", "tekst": "Gegenereerd door MeteoVPS (meteo-service.nl)"}]},
          "mark": {"type": "text", "align": "left", "dx": -56, "fontSize": 13.6, "color": "#888888"},
          "encoding": {
            "x": {"field": "kant", "type": "nominal", "scale": {"type": "point", "domain": ["links", "rechts"], "padding": 0}, "axis": null},
            "text": {"field": "tekst"}
          }
        },
        {
          "data": {"values": [{"kant": "rechts", "tekst": "Bron: ECMWF AIFS/KNMI Ens"}]},
          "mark": {"type": "text", "align": "right", "dx": 58, "fontSize": 13.6, "color": "#888888"},
          "encoding": {
            "x": {"field": "kant", "type": "nominal", "axis": null},
            "text": {"field": "tekst"}
          }
        }
      ]
    }
  ],
  "config": {
    "font": "DejaVu Sans",
    "view": {"stroke": null},
    "axis": {"labelFont": "DejaVu Sans"},
    "legend": {"labelFont": "DejaVu Sans"}
  }
}
